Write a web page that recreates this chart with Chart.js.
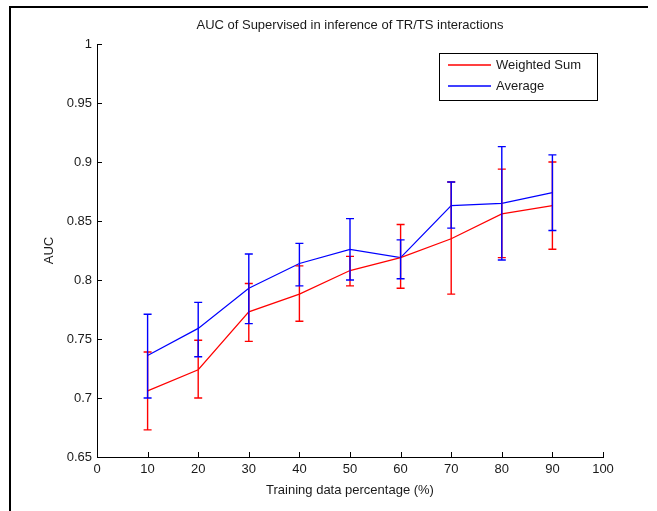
<!DOCTYPE html>
<html>
<head>
<meta charset="utf-8">
<script src="https://cdn.jsdelivr.net/npm/chart.js@4"></script>
<style>
  html, body { margin: 0; padding: 0; background: #fff; }
  #wrap { width: 657px; height: 511px; position: relative; }
</style>
</head>
<body>
<div id="wrap"><canvas id="c" width="657" height="511"></canvas></div>
<script>
const titleText = 'AUC of Supervised in inference of TR/TS interactions';
const xLabel = 'Training data percentage (%)';
const yLabel = 'AUC';
const seriesNames = ['Weighted Sum', 'Average'];
const trainPct = [10, 20, 30, 40, 50, 60, 70, 80, 90];
const wsMean = [0.706, 0.724, 0.773, 0.788, 0.808, 0.819, 0.835, 0.856, 0.863];
const wsLow  = [0.673, 0.700, 0.748, 0.765, 0.795, 0.793, 0.788, 0.819, 0.826];
const wsHigh = [0.739, 0.749, 0.797, 0.812, 0.820, 0.847, 0.883, 0.894, 0.900];
const avgMean = [0.736, 0.759, 0.793, 0.814, 0.826, 0.819, 0.863, 0.865, 0.874];
const avgLow  = [0.700, 0.735, 0.763, 0.795, 0.800, 0.801, 0.844, 0.817, 0.842];
const avgHigh = [0.771, 0.781, 0.822, 0.831, 0.852, 0.834, 0.883, 0.913, 0.906];
const xTicks = [0, 10, 20, 30, 40, 50, 60, 70, 80, 90, 100];
const yTicks = [0.65, 0.7, 0.75, 0.8, 0.85, 0.9, 0.95, 1];

const FONT = "'Liberation Sans', Arial, sans-serif";
const TEXT = '#1a1a1a';
const RED = '#ff0000';
const BLUE = '#0000ff';

const pts = (m) => trainPct.map((x, i) => ({ x: x, y: m[i] }));

const errorBars = {
  id: 'errorBars',
  afterDatasetsDraw(chart) {
    const ctx = chart.ctx, xs = chart.scales.x, ys = chart.scales.y;
    const sets = [[wsLow, wsHigh, RED], [avgLow, avgHigh, BLUE]];
    ctx.save();
    ctx.lineWidth = 1.4;
    sets.forEach(([lo, hi, col]) => {
      ctx.strokeStyle = col;
      trainPct.forEach((x, i) => {
        const px = xs.getPixelForValue(x);
        const y1 = ys.getPixelForValue(lo[i]);
        const y2 = ys.getPixelForValue(hi[i]);
        ctx.beginPath();
        ctx.moveTo(px, y1); ctx.lineTo(px, y2);
        ctx.moveTo(px - 4, y1); ctx.lineTo(px + 4, y1);
        ctx.moveTo(px - 4, y2); ctx.lineTo(px + 4, y2);
        ctx.stroke();
      });
    });
    ctx.restore();
  }
};

const decor = {
  id: 'decor',
  beforeDraw(chart) {
    const ctx = chart.ctx;
    ctx.save();
    ctx.fillStyle = '#fff';
    ctx.fillRect(0, 0, chart.width, chart.height);
    ctx.strokeStyle = '#000';
    ctx.lineWidth = 2;
    ctx.beginPath();
    ctx.moveTo(10, 511); ctx.lineTo(10, 7); ctx.lineTo(648, 7);
    ctx.stroke();
    ctx.restore();
  },
  afterDraw(chart) {
    const ctx = chart.ctx, xs = chart.scales.x, ys = chart.scales.y, a = chart.chartArea;
    ctx.save();
    ctx.strokeStyle = '#000';
    ctx.lineWidth = 1;
    ctx.beginPath();
    yTicks.forEach(v => {
      const py = Math.round(ys.getPixelForValue(v)) + 0.5;
      ctx.moveTo(a.left, py); ctx.lineTo(a.left + 5, py);
    });
    xTicks.forEach(v => {
      const px = Math.round(xs.getPixelForValue(v)) + 0.5;
      ctx.moveTo(px, a.bottom); ctx.lineTo(px, a.bottom - 5);
    });
    ctx.stroke();
    // legend box
    const lx = 439.5, ly = 53.5, lw = 158, lh = 47;
    ctx.fillStyle = '#fff';
    ctx.fillRect(lx, ly, lw, lh);
    ctx.strokeRect(lx, ly, lw, lh);
    ctx.font = '13px ' + FONT;
    ctx.textBaseline = 'middle';
    ctx.textAlign = 'left';
    chart.data.datasets.forEach((ds, i) => {
      const yy = 65 + i * 21;
      ctx.strokeStyle = ds.borderColor;
      ctx.lineWidth = 1.4;
      ctx.beginPath();
      ctx.moveTo(448, yy); ctx.lineTo(491, yy);
      ctx.stroke();
      ctx.fillStyle = TEXT;
      ctx.fillText(ds.label, 496, yy + 0.5);
    });
    ctx.restore();
  }
};

new Chart(document.getElementById('c'), {
  type: 'line',
  data: {
    datasets: [
      { label: seriesNames[0], data: pts(wsMean), borderColor: RED, borderWidth: 1.2, pointRadius: 0, tension: 0, fill: false },
      { label: seriesNames[1], data: pts(avgMean), borderColor: BLUE, borderWidth: 1.2, pointRadius: 0, tension: 0, fill: false }
    ]
  },
  options: {
    responsive: false,
    animation: false,
    events: [],
    layout: { padding: { left: 0, right: 54, top: 0, bottom: 0 } },
    plugins: {
      legend: { display: false },
      tooltip: { enabled: false },
      title: {
        display: true, text: titleText, fullSize: false,
        color: TEXT, font: { family: FONT, size: 13, weight: 'normal', lineHeight: 1.2 },
        padding: { top: 18, bottom: 10.4 }
      }
    },
    scales: {
      x: {
        type: 'linear', min: 0, max: 100,
        afterBuildTicks: (s) => { s.ticks = xTicks.map(v => ({ value: v })); },
        grid: { display: false, drawTicks: false },
        border: { display: true, color: '#000', width: 1 },
        ticks: { color: TEXT, font: { family: FONT, size: 13 }, padding: 5, maxRotation: 0, autoSkip: false },
        title: { display: true, text: xLabel, color: TEXT, font: { family: FONT, size: 13, lineHeight: 1.2 }, padding: { top: 0, bottom: 13 } },
        afterFit: (s) => { s.height = 54; }
      },
      y: {
        type: 'linear', min: 0.65, max: 1,
        afterBuildTicks: (s) => { s.ticks = yTicks.map(v => ({ value: v })); },
        grid: { display: false, drawTicks: false },
        border: { display: true, color: '#000', width: 1 },
        ticks: { color: TEXT, font: { family: FONT, size: 13 }, padding: 5, autoSkip: false,
                 callback: (v) => String(Math.round(v * 100) / 100) },
        title: { display: true, text: yLabel, color: TEXT, font: { family: FONT, size: 13, lineHeight: 1.2 }, padding: { top: 42, bottom: 0 } },
        afterFit: (s) => { s.width = 97; }
      }
    }
  },
  plugins: [decor, errorBars]
});
</script>
</body>
</html>
